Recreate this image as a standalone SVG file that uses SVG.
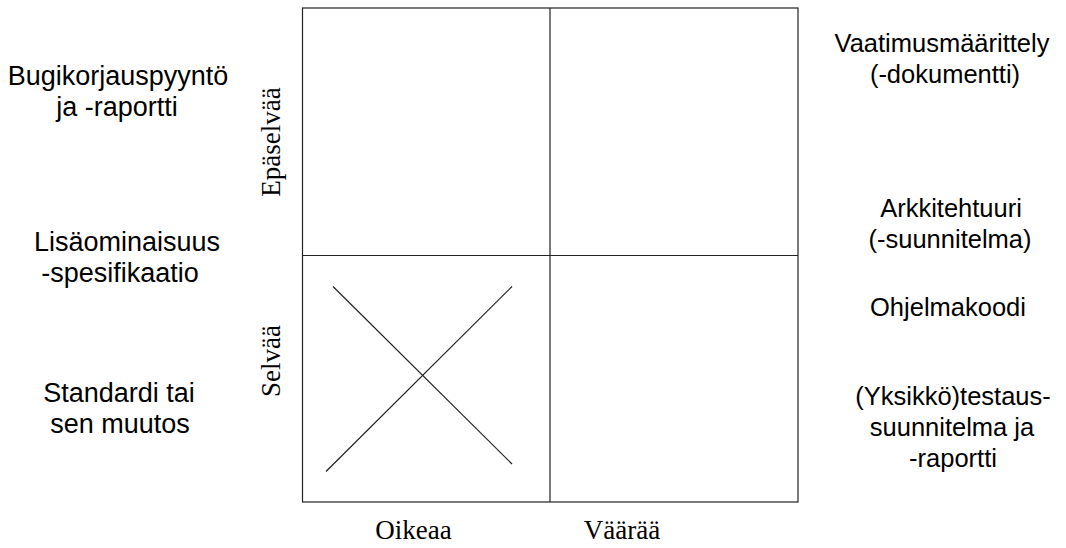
<svg xmlns="http://www.w3.org/2000/svg" width="1066" height="548" viewBox="0 0 1066 548">
<style>
.s{font-family:"Liberation Sans",Arial,sans-serif;font-size:25.5px;fill:#000;text-anchor:middle}
.l{font-size:27px}
.r{font-family:"Liberation Serif","Times New Roman",serif;font-size:27px;fill:#000;text-anchor:middle}
.ln{stroke:#222;stroke-width:1.2;fill:none}
</style>
<rect width="1066" height="548" fill="#fff"/>
<g id="grid">
<rect class="ln" x="302.5" y="8" width="495.5" height="494"/>
<line class="ln" x1="550" y1="8" x2="550" y2="502"/>
<line class="ln" x1="302.5" y1="255.5" x2="798" y2="255.5"/>
</g>
<g id="connectors">
<line class="ln" x1="333" y1="286.5" x2="512" y2="464"/>
<line class="ln" x1="512" y1="286.5" x2="326" y2="471.5"/>
</g>
<g id="axis-x">
<text class="r" x="413.5" y="539">Oikeaa</text>
<text class="r" x="622" y="539">Väärää</text>
</g>
<g id="axis-y">
<text class="r" transform="translate(280,142) rotate(-90)">Epäselvää</text>
<text class="r" transform="translate(280,361) rotate(-90)">Selvää</text>
</g>
<g id="left-labels">
<text class="s l" x="118" y="85">Bugikorjauspyyntö</text>
<text class="s l" x="117" y="116">ja -raportti</text>
<text class="s l" x="127" y="251">Lisäominaisuus</text>
<text class="s l" x="120" y="282">-spesifikaatio</text>
<text class="s l" x="119" y="402">Standardi tai</text>
<text class="s l" x="120" y="433">sen muutos</text>
</g>
<g id="right-labels">
<text class="s" x="942" y="52">Vaatimusmäärittely</text>
<text class="s" x="945" y="83">(-dokumentti)</text>
<text class="s" x="951" y="217">Arkkitehtuuri</text>
<text class="s" x="950" y="248">(-suunnitelma)</text>
<text class="s" x="948" y="316">Ohjelmakoodi</text>
<text class="s" x="953" y="405">(Yksikkö)testaus-</text>
<text class="s" x="952" y="436">suunnitelma ja</text>
<text class="s" x="953" y="467">-raportti</text>
</g>
</svg>
